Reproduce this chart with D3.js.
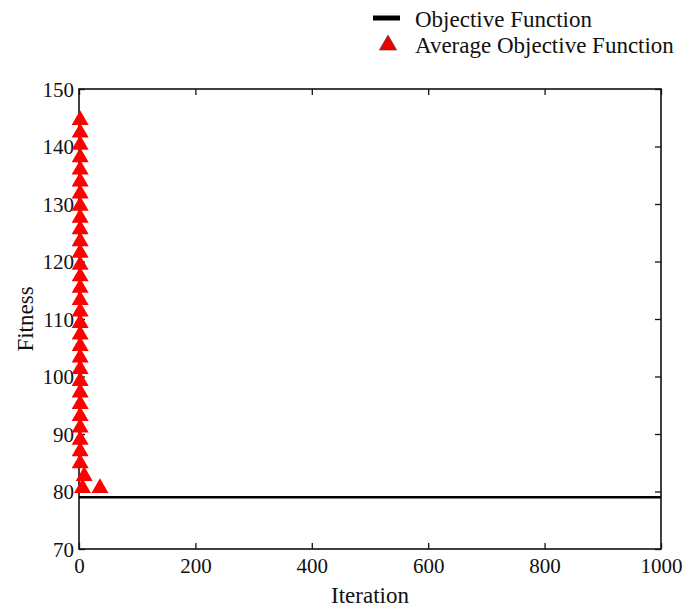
<!DOCTYPE html>
<html>
<head>
<meta charset="utf-8">
<script src="https://cdn.jsdelivr.net/npm/d3@7"></script>
<style>
  body { margin: 0; background: #fff; }
  text { font-family: "Liberation Serif", "Times New Roman", serif; fill: #111; }
</style>
</head>
<body>
<div id="chart"></div>
<script>
// objective function (best fitness), flat over all iterations
const objIter = [0, 1000];
const objValue = [79.0, 79.0];

// average objective function
const avgIter = [2, 2, 2, 2, 2, 2, 2, 2, 2, 2, 2, 2, 2, 2, 2, 2, 2, 2, 2, 2, 2, 2, 2, 2, 2, 2, 2, 2, 2, 2, 9, 6, 36];
const avgValue = [144.6, 142.4, 140.3, 138.1, 136.0, 133.9, 131.8, 129.7, 127.6, 125.6,
                  123.5, 121.5, 119.4, 117.4, 115.4, 113.3, 111.3, 109.3, 107.3, 105.3,
                  103.3, 101.3, 99.2, 97.2, 95.2, 93.1, 91.1, 89.0, 87.0, 84.9,
                  82.7, 80.6, 80.6];

const xTicks = [0, 200, 400, 600, 800, 1000];
const yTicks = [70, 80, 90, 100, 110, 120, 130, 140, 150];
const legendLabels = ["Objective Function", "Average Objective Function"];

const W = 684, H = 608;
const margin = {top: 89, right: 23, bottom: 59, left: 79};
const width = W - margin.left - margin.right;
const height = H - margin.top - margin.bottom;

const root = d3.select("#chart").append("svg")
    .attr("width", W)
    .attr("height", H);

const svg = root.append("g")
    .attr("transform", `translate(${margin.left},${margin.top})`);

const x = d3.scaleLinear().domain([0, 1000]).range([0, width]);
const y = d3.scaleLinear().domain([70, 150]).range([height, 0]);

// axes with inward ticks on all four sides
const tickLen = 6;
svg.append("g")
    .attr("transform", `translate(0,${height})`)
    .call(d3.axisBottom(x).tickValues(xTicks).tickFormat(d3.format("d"))
        .tickSizeInner(-tickLen).tickSizeOuter(0).tickPadding(9))
    .call(g => g.selectAll("text").style("font-size", "21px"));
svg.append("g")
    .call(d3.axisLeft(y).tickValues(yTicks).tickSizeInner(-tickLen).tickSizeOuter(0).tickPadding(5))
    .call(g => g.selectAll("text").style("font-size", "21px").attr("dy", "0.34em"));
svg.append("g")
    .call(d3.axisTop(x).tickValues(xTicks).tickSizeInner(-tickLen).tickSizeOuter(0).tickFormat(""));
svg.append("g")
    .attr("transform", `translate(${width},0)`)
    .call(d3.axisRight(y).tickValues(yTicks).tickSizeInner(-tickLen).tickSizeOuter(0).tickFormat(""));
svg.selectAll(".domain").remove();
svg.selectAll(".tick line").attr("stroke", "#111").attr("stroke-width", 1.3);

svg.append("rect")
    .attr("width", width)
    .attr("height", height)
    .attr("fill", "none")
    .attr("stroke", "#111")
    .attr("stroke-width", 1.6);

// objective function line
const line = d3.line().x(d => x(d[0])).y(d => y(d[1]));
svg.append("path")
    .datum(objIter.map((it, i) => [it, objValue[i]]))
    .attr("d", line)
    .attr("fill", "none")
    .attr("stroke", "#000")
    .attr("stroke-width", 2.6);

// average objective function markers
const tri = d3.symbol().type(d3.symbolTriangle).size(125);
svg.selectAll(".avg")
    .data(avgIter.map((it, i) => [it, avgValue[i]]))
    .enter()
    .append("path")
    .attr("class", "avg")
    .attr("d", tri)
    .attr("transform", d => `translate(${x(d[0])},${y(d[1])})`)
    .attr("fill", "#ff0000");

// axis titles
root.append("text")
    .attr("x", margin.left + width / 2)
    .attr("y", 603)
    .attr("text-anchor", "middle")
    .style("font-size", "23px")
    .text("Iteration");
root.append("text")
    .attr("transform", `translate(33,${margin.top + height / 2}) rotate(-90)`)
    .attr("text-anchor", "middle")
    .style("font-size", "23px")
    .text("Fitness");

// legend
const legend = root.append("g").attr("transform", "translate(373,0)");
legend.append("line")
    .attr("x1", 0).attr("x2", 27)
    .attr("y1", 18).attr("y2", 18)
    .attr("stroke", "#000")
    .attr("stroke-width", 5);
legend.append("path")
    .attr("d", tri)
    .attr("transform", "translate(15,45)")
    .attr("fill", "#ee0000")
    .attr("stroke", "#553333")
    .attr("stroke-width", 0.8);
legend.selectAll(".lbl")
    .data(legendLabels)
    .enter()
    .append("text")
    .attr("class", "lbl")
    .attr("x", 42)
    .attr("y", (d, i) => 27 + i * 26)
    .style("font-size", "23px")
    .text(d => d);
</script>
</body>
</html>
